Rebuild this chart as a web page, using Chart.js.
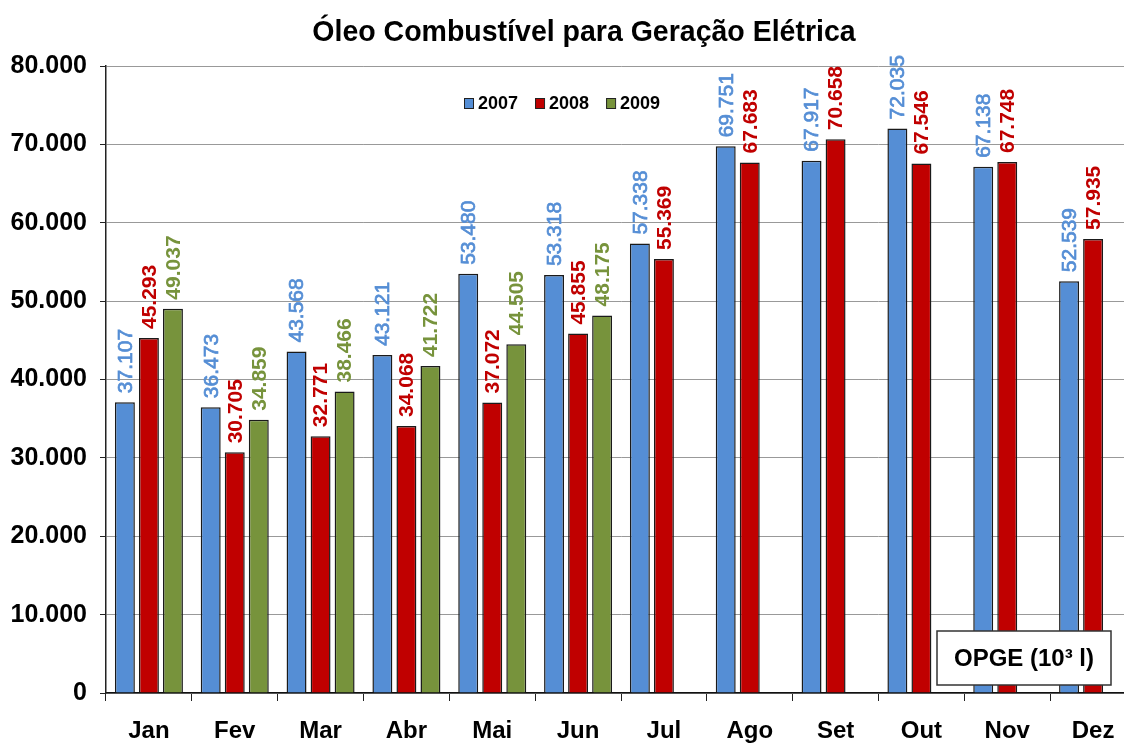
<!DOCTYPE html>
<html>
<head>
<meta charset="utf-8">
<script src="https://cdn.jsdelivr.net/npm/chart.js@4.4.1/dist/chart.umd.min.js"></script>
<style>
  html, body { margin: 0; padding: 0; background: #fff; overflow: hidden; }
  #wrap { width: 1168px; height: 744px; }
</style>
</head>
<body>
<div id="wrap"><canvas id="c" width="1168" height="744"></canvas></div>
<script>
const titleText = 'Óleo Combustível para Geração Elétrica';
const categories = ['Jan', 'Fev', 'Mar', 'Abr', 'Mai', 'Jun', 'Jul', 'Ago', 'Set', 'Out', 'Nov', 'Dez'];
const seriesNames = ['2007', '2008', '2009'];
const values2007 = [37107, 36473, 43568, 43121, 53480, 53318, 57338, 69751, 67917, 72035, 67138, 52539];
const values2008 = [45293, 30705, 32771, 34068, 37072, 45855, 55369, 67683, 70658, 67546, 67748, 57935];
const values2009 = [49037, 34859, 38466, 41722, 44505, 48175, null, null, null, null, null, null];
const yMin = 0, yMax = 80000, yStep = 10000;
const unitText = 'OPGE (10³ l)';

const fillColors = ['#558ED5', '#C00000', '#77933C'];
const labelColors = ['#558ED5', '#C00000', '#77933C'];
const labelWeights = ['normal', 'bold', 'bold'];
const labelStroke = [0.7, 0, 0];
const FONT = "'Liberation Sans', Arial, Helvetica, sans-serif";

function fmt(v) {
  return String(Math.round(v)).replace(/\B(?=(\d{3})+(?!\d))/g, '.');
}

const titlePlugin = {
  id: 'narrowTitle',
  afterDraw(chart) {
    const ctx = chart.ctx;
    ctx.save();
    ctx.font = 'bold 30px ' + FONT;
    ctx.fillStyle = '#000';
    ctx.textAlign = 'center';
    ctx.textBaseline = 'middle';
    ctx.translate(584, 33);
    ctx.scale(0.95, 1);
    ctx.fillText(titleText, 0, 0);
    ctx.restore();
  }
};

const valueLabels = {
  id: 'valueLabels',
  afterDatasetsDraw(chart) {
    const ctx = chart.ctx;
    ctx.save();
    chart.data.datasets.forEach((ds, di) => {
      const meta = chart.getDatasetMeta(di);
      ctx.font = labelWeights[di] + ' 21px ' + FONT;
      meta.data.forEach((bar, i) => {
        const v = ds.data[i];
        if (v === null || v === undefined) return;
        ctx.save();
        ctx.translate(bar.x + 1, bar.y - 9);
        ctx.rotate(-Math.PI / 2);
        ctx.fillStyle = labelColors[di];
        ctx.textAlign = 'left';
        ctx.textBaseline = 'middle';
        ctx.fillText(fmt(v), 0, 0);
        if (labelStroke[di] > 0) {
          ctx.strokeStyle = labelColors[di];
          ctx.lineWidth = labelStroke[di];
          ctx.strokeText(fmt(v), 0, 0);
        }
        ctx.restore();
      });
    });
    ctx.restore();
  }
};

const overlay = {
  id: 'overlay',
  afterDraw(chart) {
    const ctx = chart.ctx;
    ctx.save();
    // legend
    ctx.font = 'bold 18px ' + FONT;
    ctx.textBaseline = 'middle';
    ctx.textAlign = 'left';
    let x = 464;
    const y = 103;
    chart.data.datasets.forEach((ds, di) => {
      ctx.fillStyle = fillColors[di];
      ctx.fillRect(x, y - 5, 9, 10);
      ctx.strokeStyle = '#222';
      ctx.lineWidth = 1;
      ctx.strokeRect(x + 0.5, y - 4.5, 9, 10);
      ctx.fillStyle = '#000';
      ctx.fillText(ds.label, x + 14, y + 1);
      x += 14 + ctx.measureText(ds.label).width + 17;
    });
    // unit box
    const bx = 937, by = 631, bw = 174, bh = 54;
    ctx.fillStyle = '#fff';
    ctx.fillRect(bx, by, bw, bh);
    ctx.strokeStyle = '#333';
    ctx.lineWidth = 1.5;
    ctx.strokeRect(bx, by, bw, bh);
    ctx.fillStyle = '#000';
    ctx.font = 'bold 24px ' + FONT;
    ctx.textAlign = 'center';
    ctx.fillText(unitText, bx + bw / 2, by + bh / 2 + 1);
    ctx.restore();
  }
};

new Chart(document.getElementById('c'), {
  type: 'bar',
  data: {
    labels: categories,
    datasets: [
      { label: seriesNames[0], data: values2007 },
      { label: seriesNames[1], data: values2008 },
      { label: seriesNames[2], data: values2009 }
    ].map((d, i) => Object.assign(d, {
      backgroundColor: fillColors[i],
      borderColor: '#1a1a1a',
      borderWidth: 1.5,
      categoryPercentage: 0.84,
      barPercentage: 0.83
    }))
  },
  options: {
    responsive: false,
    devicePixelRatio: 1,
    animation: false,
    layout: { padding: { left: 0, right: 32, top: 66, bottom: 0 } },
    plugins: {
      legend: { display: false },
      tooltip: { enabled: false },
      title: { display: false }
    },
    scales: {
      x: {
        grid: { offset: true, drawOnChartArea: false, drawTicks: true, tickLength: 8, color: '#222', lineWidth: 1 },
        border: { color: '#111', width: 1.5 },
        ticks: { color: '#000', font: { family: FONT, size: 24, weight: 'bold' }, padding: 16 },
        afterFit(scale) { scale.height = 51; }
      },
      y: {
        min: yMin, max: yMax,
        grid: { color: '#999', lineWidth: 1, tickLength: 6, tickColor: '#222' },
        border: { color: '#222', width: 1.5 },
        ticks: {
          stepSize: yStep,
          color: '#000',
          font: { family: FONT, size: 25, weight: 'bold' },
          padding: 13,
          callback: (v) => fmt(v)
        },
        afterFit(scale) { scale.width = 106; }
      }
    }
  },
  plugins: [valueLabels, overlay, titlePlugin]
});
</script>
</body>
</html>
